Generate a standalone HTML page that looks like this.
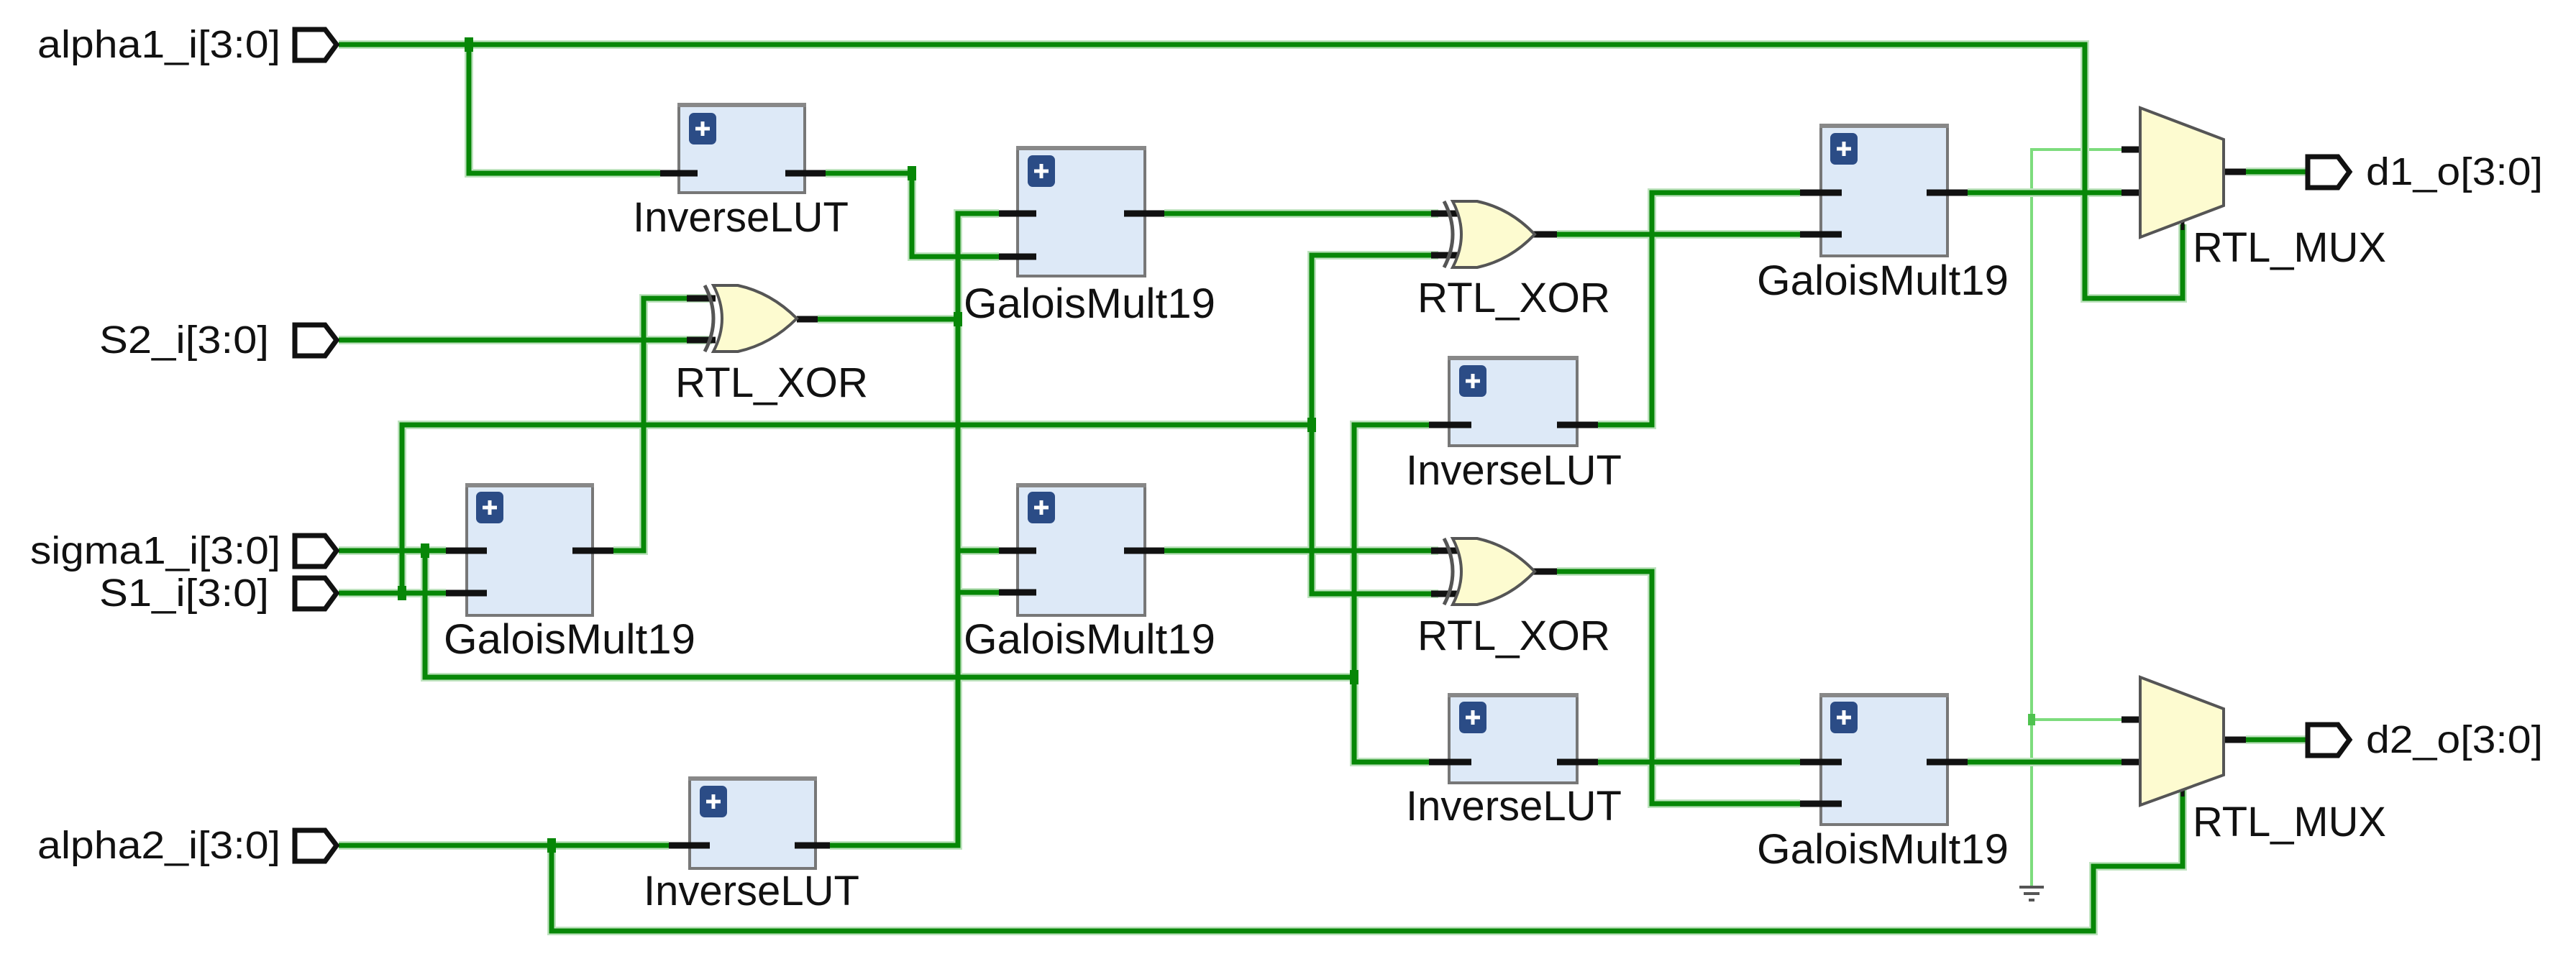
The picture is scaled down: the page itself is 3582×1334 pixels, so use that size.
<!DOCTYPE html>
<html><head><meta charset="utf-8"><style>
html,body{margin:0;padding:0;background:#fff;}
svg{display:block;}
text{font-family:"Liberation Sans",sans-serif;fill:#111;}
</style></head><body>
<svg width="3582" height="1334" viewBox="0 0 3582 1334" xmlns="http://www.w3.org/2000/svg">
<defs>
<g id="plus"><rect x="0" y="0" width="38" height="44" rx="7" fill="#2b4c86"/><path d="M19 12 V32 M9 22 H29" stroke="#fff" stroke-width="5"/></g>
</defs>
<!-- light green const net -->
<g fill="none" stroke="#7ddc7d" stroke-width="4">
<polyline points="2950,208 2825,208 2825,1232"/>
<polyline points="2825,1001 2950,1001"/>
</g>
<rect x="2820" y="993" width="10" height="16" fill="#4fc24f"/>
<!-- ground -->
<g stroke="#555" stroke-width="4"><line x1="2808" y1="1234" x2="2842" y2="1234"/><line x1="2814" y1="1243" x2="2836" y2="1243"/><line x1="2821" y1="1252" x2="2829" y2="1252"/></g>
<!-- wires underlay -->
<g fill="none" stroke-linejoin="miter" id="wires">
<g stroke="#bfe3bf" stroke-width="12">
<polyline points="471,62 2899,62 2899,415 3035,415 3035,312"/>
<polyline points="652,62 652,241 918,241"/>
<polyline points="1148,241 1268,241 1268,357 1389,357"/>
<polyline points="1389,297 1332,297 1332,1176 1154,1176"/>
<polyline points="1137,444 1332,444"/>
<polyline points="1332,766 1389,766"/><polyline points="1332,824 1389,824"/>
<polyline points="471,473 990,473"/>
<polyline points="990,415 895,415 895,766 853,766"/>
<polyline points="1824,591 559,591 559,825"/>
<polyline points="471,766 620,766"/><polyline points="471,825 620,825"/>
<polyline points="591,766 591,942 1883,942"/>
<polyline points="1619,297 2000,297"/>
<polyline points="2000,355 1824,355 1824,826 2000,826"/>
<polyline points="1619,766 2000,766"/>
<polyline points="1987,591 1883,591 1883,1060 1987,1060"/>
<polyline points="2165,326 2503,326"/>
<polyline points="2222,591 2297,591 2297,268 2503,268"/>
<polyline points="2165,795 2297,795 2297,1118 2503,1118"/>
<polyline points="2222,1060 2503,1060"/>
<polyline points="2736,268 2950,268"/><polyline points="2736,1060 2950,1060"/>
<polyline points="3123,239 3207,239"/><polyline points="3123,1029 3207,1029"/>
<polyline points="471,1176 930,1176"/>
<polyline points="767,1176 767,1295 2911,1295 2911,1205 3035,1205 3035,1098"/>
</g>
<g stroke="#078707" stroke-width="7">
<polyline points="471,62 2899,62 2899,415 3035,415 3035,312"/>
<polyline points="652,62 652,241 918,241"/>
<polyline points="1148,241 1268,241 1268,357 1389,357"/>
<polyline points="1389,297 1332,297 1332,1176 1154,1176"/>
<polyline points="1137,444 1332,444"/>
<polyline points="1332,766 1389,766"/><polyline points="1332,824 1389,824"/>
<polyline points="471,473 990,473"/>
<polyline points="990,415 895,415 895,766 853,766"/>
<polyline points="1824,591 559,591 559,825"/>
<polyline points="471,766 620,766"/><polyline points="471,825 620,825"/>
<polyline points="591,766 591,942 1883,942"/>
<polyline points="1619,297 2000,297"/>
<polyline points="2000,355 1824,355 1824,826 2000,826"/>
<polyline points="1619,766 2000,766"/>
<polyline points="1987,591 1883,591 1883,1060 1987,1060"/>
<polyline points="2165,326 2503,326"/>
<polyline points="2222,591 2297,591 2297,268 2503,268"/>
<polyline points="2165,795 2297,795 2297,1118 2503,1118"/>
<polyline points="2222,1060 2503,1060"/>
<polyline points="2736,268 2950,268"/><polyline points="2736,1060 2950,1060"/>
<polyline points="3123,239 3207,239"/><polyline points="3123,1029 3207,1029"/>
<polyline points="471,1176 930,1176"/>
<polyline points="767,1176 767,1295 2911,1295 2911,1205 3035,1205 3035,1098"/>
</g>
</g>
<!-- junctions -->
<g fill="#078707">
<rect x="646" y="52" width="12" height="20"/><rect x="1262" y="231" width="12" height="20"/>
<rect x="1326" y="434" width="12" height="20"/><rect x="553" y="815" width="12" height="20"/>
<rect x="585" y="756" width="12" height="20"/><rect x="1818" y="581" width="12" height="20"/>
<rect x="1877" y="932" width="12" height="20"/><rect x="761" y="1166" width="12" height="20"/>
</g>
<!-- ports -->
<g fill="#fff" stroke="#111" stroke-width="7" stroke-linejoin="miter">
<path d="M410 41 H452 L468 62 L452 84 H410 Z"/>
<path d="M410 452 H452 L468 473 L452 495 H410 Z"/>
<path d="M410 745 H452 L468 766 L452 788 H410 Z"/>
<path d="M410 804 H452 L468 825 L452 847 H410 Z"/>
<path d="M410 1155 H452 L468 1176 L452 1198 H410 Z"/>
<path d="M3209 218 H3251 L3267 239 L3251 261 H3209 Z"/>
<path d="M3209 1008 H3251 L3267 1029 L3251 1051 H3209 Z"/>
</g>
<g font-size="54" text-anchor="end">
<text x="390" y="80" textLength="338" lengthAdjust="spacingAndGlyphs">alpha1_i[3:0]</text>
<text x="374" y="491" textLength="236" lengthAdjust="spacingAndGlyphs">S2_i[3:0]</text>
<text x="390" y="784" textLength="348" lengthAdjust="spacingAndGlyphs">sigma1_i[3:0]</text>
<text x="374" y="843" textLength="236" lengthAdjust="spacingAndGlyphs">S1_i[3:0]</text>
<text x="390" y="1194" textLength="338" lengthAdjust="spacingAndGlyphs">alpha2_i[3:0]</text>
</g>
<g font-size="54">
<text x="3290" y="257" textLength="246" lengthAdjust="spacingAndGlyphs">d1_o[3:0]</text>
<text x="3290" y="1047" textLength="246" lengthAdjust="spacingAndGlyphs">d2_o[3:0]</text>
</g>
<!-- boxes -->
<g fill="#dde9f7" stroke="#777" stroke-width="4">
<rect x="944" y="145" width="175" height="123"/>
<rect x="1415" y="205" width="177" height="179"/>
<rect x="649" y="674" width="175" height="182"/>
<rect x="1415" y="674" width="177" height="182"/>
<rect x="959" y="1082" width="175" height="126"/>
<rect x="2532" y="174" width="176" height="182"/>
<rect x="2015" y="497" width="178" height="123"/>
<rect x="2015" y="966" width="178" height="123"/>
<rect x="2532" y="966" width="176" height="181"/>
</g>
<g fill="#888">
<rect x="942" y="143" width="179" height="6"/><rect x="1413" y="203" width="181" height="6"/>
<rect x="647" y="672" width="179" height="6"/><rect x="1413" y="672" width="181" height="6"/>
<rect x="957" y="1080" width="179" height="6"/><rect x="2530" y="172" width="180" height="6"/>
<rect x="2013" y="495" width="182" height="6"/><rect x="2013" y="964" width="182" height="6"/>
<rect x="2530" y="964" width="180" height="6"/>
</g>
<use href="#plus" x="958" y="157"/><use href="#plus" x="1429" y="216"/>
<use href="#plus" x="662" y="684"/><use href="#plus" x="1429" y="684"/>
<use href="#plus" x="973" y="1093"/><use href="#plus" x="2545" y="185"/>
<use href="#plus" x="2029" y="508"/><use href="#plus" x="2029" y="976"/>
<use href="#plus" x="2545" y="976"/>
<!-- pins -->
<g stroke="#111" stroke-width="9">
<line x1="918" y1="241" x2="970" y2="241"/><line x1="1092" y1="241" x2="1148" y2="241"/>
<line x1="1389" y1="297" x2="1441" y2="297"/><line x1="1389" y1="357" x2="1441" y2="357"/><line x1="1563" y1="297" x2="1619" y2="297"/>
<line x1="620" y1="766" x2="677" y2="766"/><line x1="620" y1="825" x2="677" y2="825"/><line x1="796" y1="766" x2="853" y2="766"/>
<line x1="1389" y1="766" x2="1441" y2="766"/><line x1="1389" y1="824" x2="1441" y2="824"/><line x1="1563" y1="766" x2="1619" y2="766"/>
<line x1="930" y1="1176" x2="987" y2="1176"/><line x1="1105" y1="1176" x2="1154" y2="1176"/>
<line x1="2503" y1="268" x2="2561" y2="268"/><line x1="2503" y1="326" x2="2561" y2="326"/><line x1="2679" y1="268" x2="2736" y2="268"/>
<line x1="1987" y1="591" x2="2046" y2="591"/><line x1="2165" y1="591" x2="2222" y2="591"/>
<line x1="1987" y1="1060" x2="2046" y2="1060"/><line x1="2165" y1="1060" x2="2222" y2="1060"/>
<line x1="2503" y1="1060" x2="2561" y2="1060"/><line x1="2503" y1="1118" x2="2561" y2="1118"/><line x1="2679" y1="1060" x2="2736" y2="1060"/>
<!-- xor pins -->
<line x1="955" y1="415" x2="995" y2="415"/><line x1="955" y1="473" x2="995" y2="473"/><line x1="1108" y1="444" x2="1137" y2="444"/>
<line x1="1990" y1="297" x2="2030" y2="297"/><line x1="1990" y1="355" x2="2030" y2="355"/><line x1="2132" y1="326" x2="2165" y2="326"/>
<line x1="1990" y1="766" x2="2030" y2="766"/><line x1="1990" y1="826" x2="2030" y2="826"/><line x1="2132" y1="795" x2="2165" y2="795"/>
<!-- mux pins -->
<line x1="2950" y1="208" x2="2976" y2="208"/><line x1="2950" y1="268" x2="2976" y2="268"/><line x1="3092" y1="239" x2="3123" y2="239"/>
<line x1="2950" y1="1001" x2="2976" y2="1001"/><line x1="2950" y1="1060" x2="2976" y2="1060"/><line x1="3092" y1="1029" x2="3123" y2="1029"/>
<line x1="3035" y1="306" x2="3035" y2="320" stroke-width="5"/><line x1="3035" y1="1094" x2="3035" y2="1108" stroke-width="5"/>
</g>
<!-- XOR gates -->
<g id="xors" fill="#fdfbd0" stroke="#555" stroke-width="4">
<g transform="translate(976,397)">
<path d="M4 0 Q28 46 4 92" fill="none" stroke-width="5"/>
<path d="M16 0 H50 Q96 10 132 46 Q96 82 50 92 H16 Q40 46 16 0 Z"/>
</g>
<g transform="translate(2004,280)">
<path d="M4 0 Q28 46 4 92" fill="none" stroke-width="5"/>
<path d="M16 0 H50 Q96 10 130 46 Q96 82 50 92 H16 Q40 46 16 0 Z"/>
</g>
<g transform="translate(2004,749)">
<path d="M4 0 Q28 46 4 92" fill="none" stroke-width="5"/>
<path d="M16 0 H50 Q96 10 130 46 Q96 82 50 92 H16 Q40 46 16 0 Z"/>
</g>
</g>
<!-- MUXes -->
<g fill="#fdfbd0" stroke="#555" stroke-width="4">
<polygon points="2976,150 3092,194 3092,286 2976,330"/>
<polygon points="2976,942 3092,986 3092,1078 2976,1120"/>
</g>
<!-- labels -->
<g font-size="58" text-anchor="middle">
<text x="1030" y="322" textLength="300" lengthAdjust="spacingAndGlyphs">InverseLUT</text>
<text x="1515" y="442" textLength="350" lengthAdjust="spacingAndGlyphs">GaloisMult19</text>
<text x="1073" y="552" textLength="268" lengthAdjust="spacingAndGlyphs">RTL_XOR</text>
<text x="792" y="909" textLength="350" lengthAdjust="spacingAndGlyphs">GaloisMult19</text>
<text x="1515" y="909" textLength="350" lengthAdjust="spacingAndGlyphs">GaloisMult19</text>
<text x="1045" y="1259" textLength="300" lengthAdjust="spacingAndGlyphs">InverseLUT</text>
<text x="2105" y="434" textLength="268" lengthAdjust="spacingAndGlyphs">RTL_XOR</text>
<text x="2618" y="410" textLength="350" lengthAdjust="spacingAndGlyphs">GaloisMult19</text>
<text x="2105" y="674" textLength="300" lengthAdjust="spacingAndGlyphs">InverseLUT</text>
<text x="2105" y="904" textLength="268" lengthAdjust="spacingAndGlyphs">RTL_XOR</text>
<text x="2105" y="1141" textLength="300" lengthAdjust="spacingAndGlyphs">InverseLUT</text>
<text x="2618" y="1201" textLength="350" lengthAdjust="spacingAndGlyphs">GaloisMult19</text>
</g>
<g font-size="58">
<text x="3049" y="364" textLength="269" lengthAdjust="spacingAndGlyphs">RTL_MUX</text>
<text x="3049" y="1163" textLength="269" lengthAdjust="spacingAndGlyphs">RTL_MUX</text>
</g>
</svg>
</body></html>
